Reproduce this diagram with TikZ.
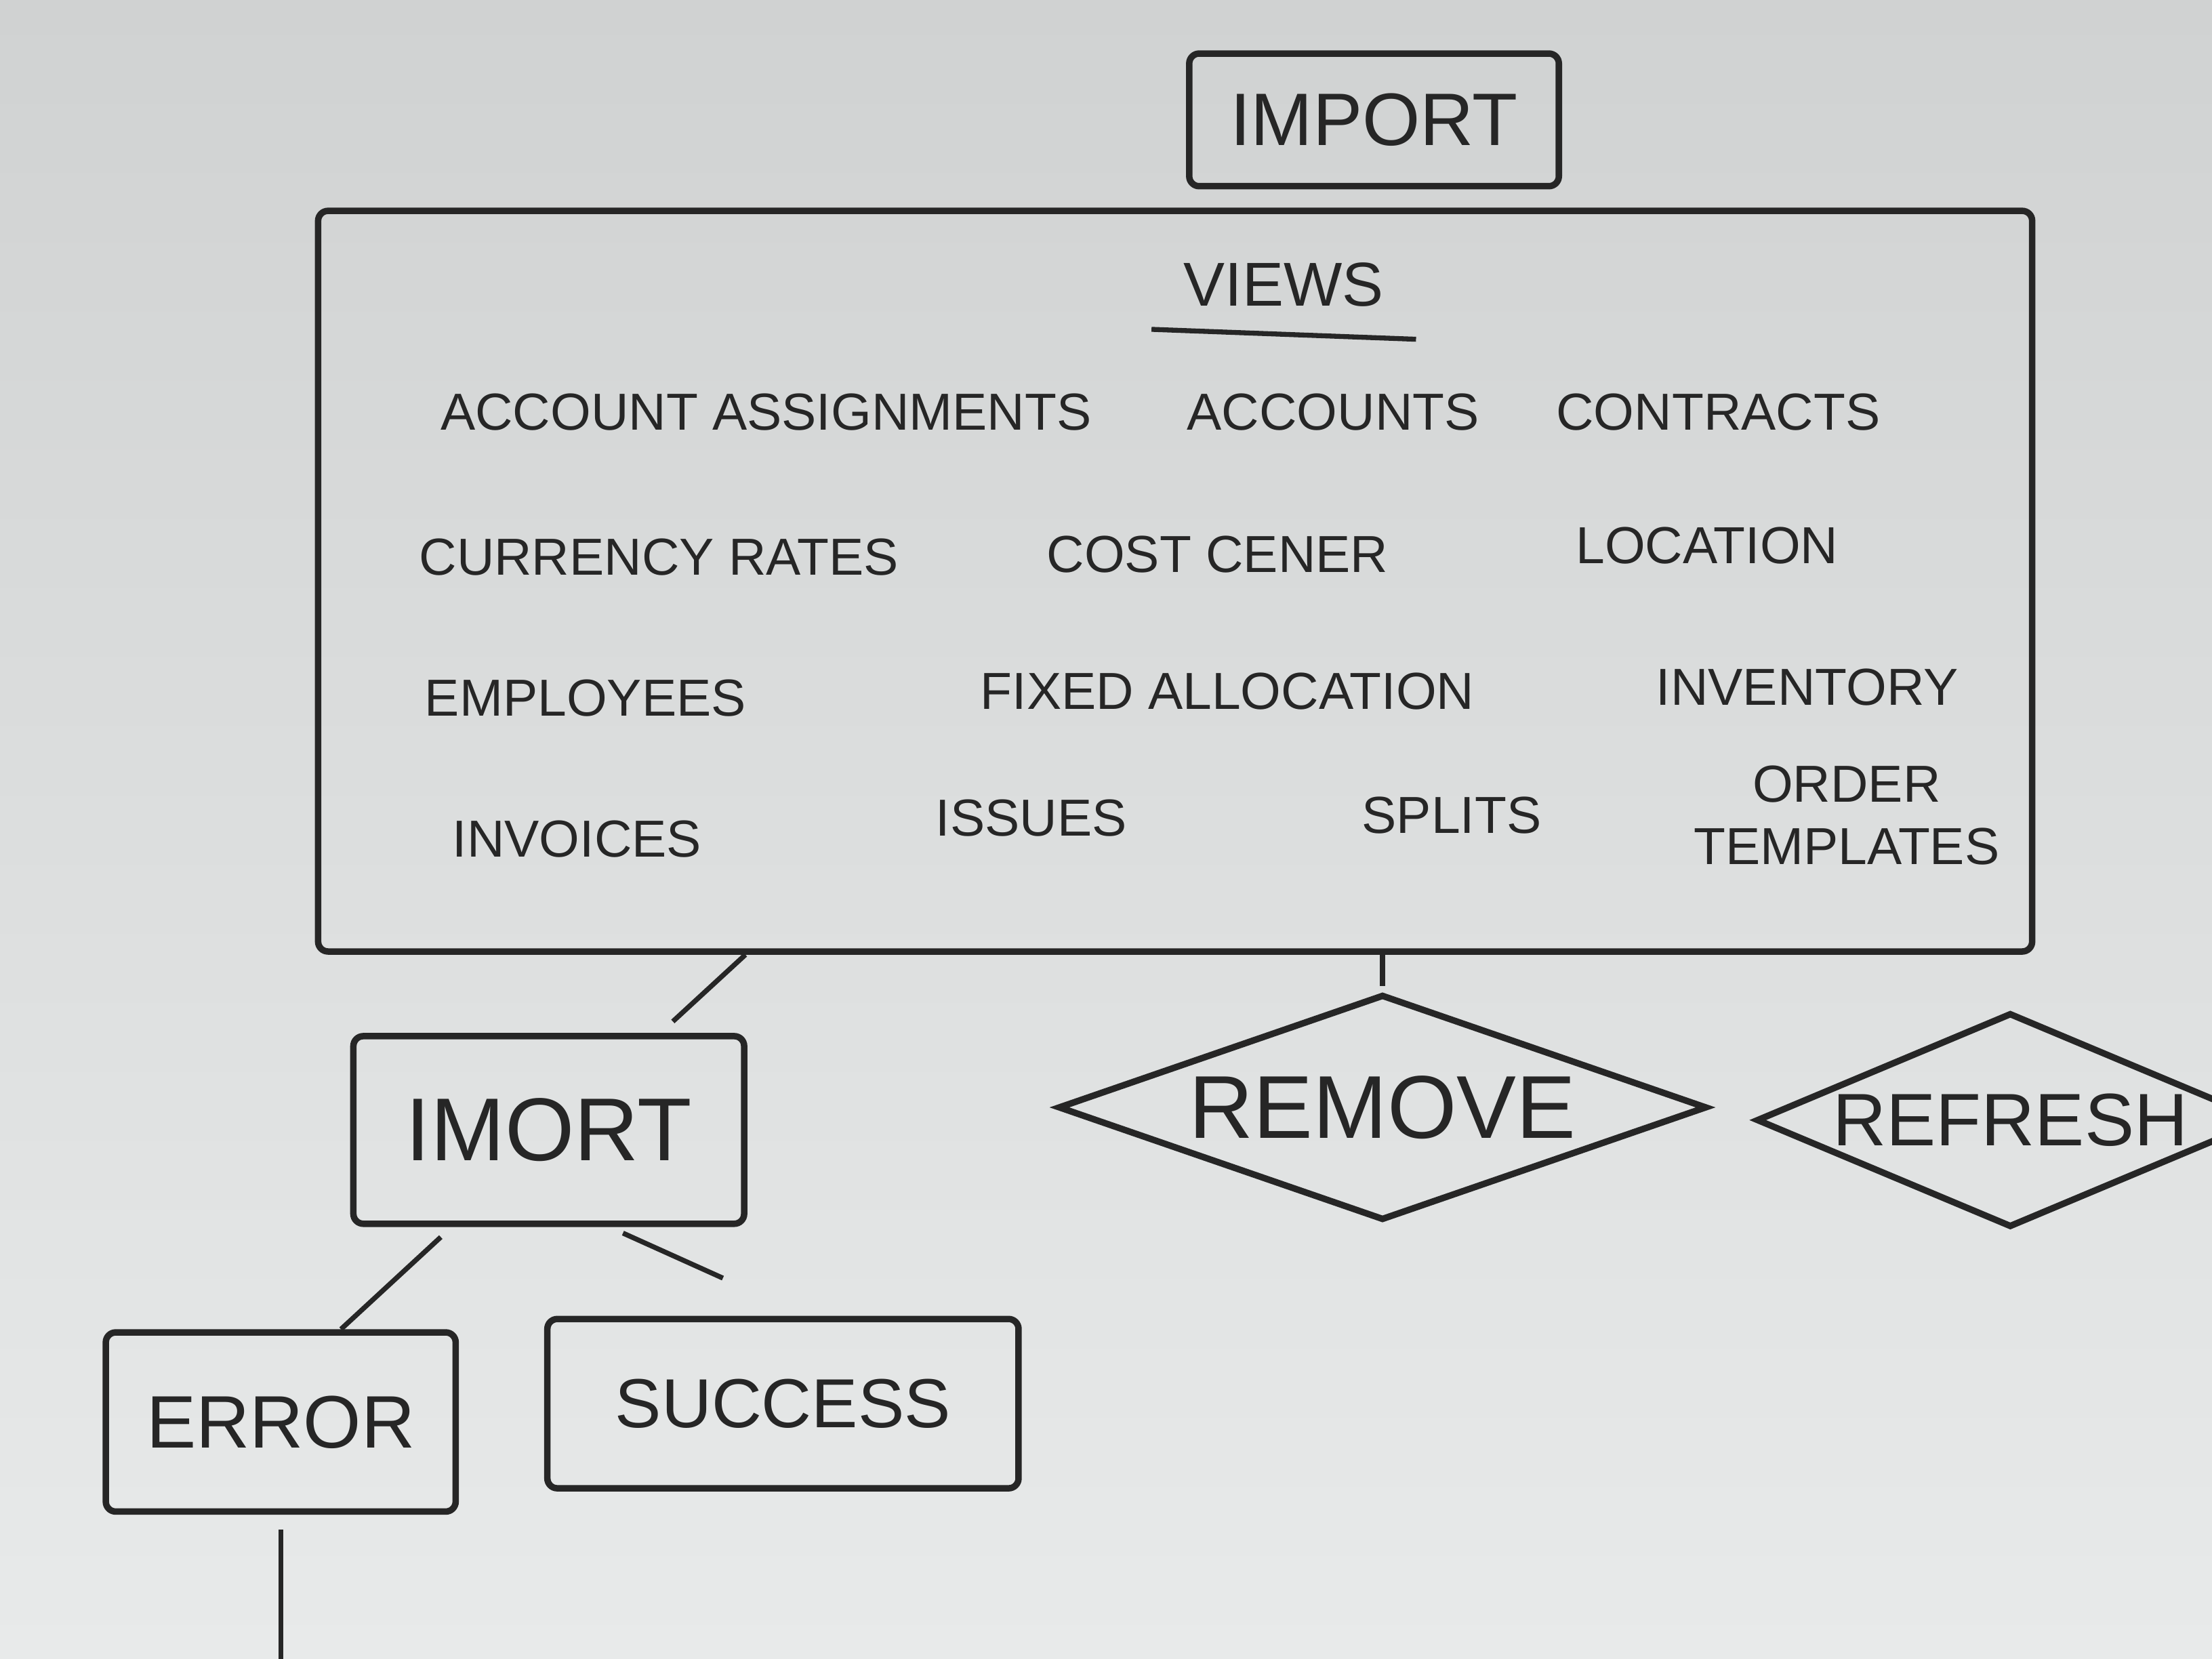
\documentclass[tikz,border=0pt]{standalone}
\usepackage{fontspec}
\setmainfont{Liberation Sans}
\usepackage{xcolor}
\usepackage{tikz}
\usetikzlibrary{shapes.geometric, positioning}

\definecolor{ink}{RGB}{38,38,38}
\definecolor{boardtop}{RGB}{208,210,210}
\definecolor{boardbot}{RGB}{232,234,234}

\begin{document}
\begin{tikzpicture}[
    process/.style={rectangle, draw=ink, line width=1.3pt, rounded corners=2pt,
                    text=ink, font=\fontsize{18}{20}\selectfont},
    container/.style={rectangle, draw=ink, line width=1.3pt, rounded corners=2pt,
                      minimum width=12.15cm, minimum height=5.25cm},
    entry/.style={text=ink, font=\fontsize{10.5}{12.5}\selectfont, align=center},
    decision/.style={diamond, draw=ink, line width=1.3pt, text=ink,
                     inner sep=0pt, font=\fontsize{18}{20}\selectfont},
    link/.style={draw=ink, line width=1pt}
]
\useasboundingbox (0,0) rectangle (15.68,11.76);
\clip (0,0) rectangle (15.68,11.76);
\shade[top color=boardtop, bottom color=boardbot] (0,0) rectangle (15.68,11.76);

\node (importtop) [process, minimum width=2.62cm, minimum height=0.94cm,
                   font=\fontsize{15}{17}\selectfont] at (9.74,10.91) {IMPORT};

% views panel
\node (views)  [container] at (8.33,7.64) {};
\node (vlabel) [entry, font=\fontsize{12.5}{14}\selectfont] at (9.10,9.74) {VIEWS};
\draw [link] ([xshift=-3pt,yshift=-1pt]vlabel.south west)
          -- ([xshift=3pt,yshift=-3pt]vlabel.south east);

\node (acctassign) [entry] at (5.43,8.84)  {ACCOUNT ASSIGNMENTS};
\node (accounts)   [entry] at (9.45,8.84)  {ACCOUNTS};
\node (contracts)  [entry] at (12.18,8.84) {CONTRACTS};
\node (currency)   [entry] at (4.67,7.81)  {CURRENCY RATES};
\node (costcenter) [entry] at (8.63,7.83)  {COST CENER};
\node (location)   [entry] at (12.10,7.89) {LOCATION};
\node (employees)  [entry] at (4.15,6.81)  {EMPLOYEES};
\node (fixedalloc) [entry] at (8.70,6.86)  {FIXED ALLOCATION};
\node (inventory)  [entry] at (12.81,6.89) {INVENTORY};
\node (invoices)   [entry] at (4.09,5.81)  {INVOICES};
\node (issues)     [entry] at (7.31,5.96)  {ISSUES};
\node (splits)     [entry] at (10.29,5.98) {SPLITS};
\node (ordertpl)   [entry] at (13.09,5.98) {ORDER\\TEMPLATES};

% actions
\node (imort)   [process, minimum width=2.77cm, minimum height=1.33cm] at (3.89,3.75) {IMORT};
\node (remove)  [decision, aspect=2.875, minimum width=4.6cm, minimum height=1.6cm]
                at (9.80,3.91) {REMOVE};
\node (refresh) [decision, aspect=2.37, minimum width=3.6cm, minimum height=1.52cm,
                 font=\fontsize{15}{17}\selectfont] at (14.25,3.82) {REFRESH};
\node (error)   [process, minimum width=2.48cm, minimum height=1.27cm,
                 font=\fontsize{15}{17}\selectfont] at (1.99,1.68) {ERROR};
\node (success) [process, minimum width=3.34cm, minimum height=1.20cm,
                 font=\fontsize{14}{16}\selectfont] at (5.55,1.81) {SUCCESS};
\coordinate [below=1.9cm of error.south] (errout);

\draw [link, shorten >=1.2mm] (views.221) -- (imort.41);
\draw [link, shorten >=1pt] (views.south -| remove.north) -- (remove.north);
\draw [link, shorten <=3pt] (imort.225) -- (error.57);
\draw [link, shorten <=3pt, shorten >=6.5mm] (imort.302) -- (success.75);
\draw [link, shorten <=3pt] (error.south) -- (errout);
\end{tikzpicture}
\end{document}
